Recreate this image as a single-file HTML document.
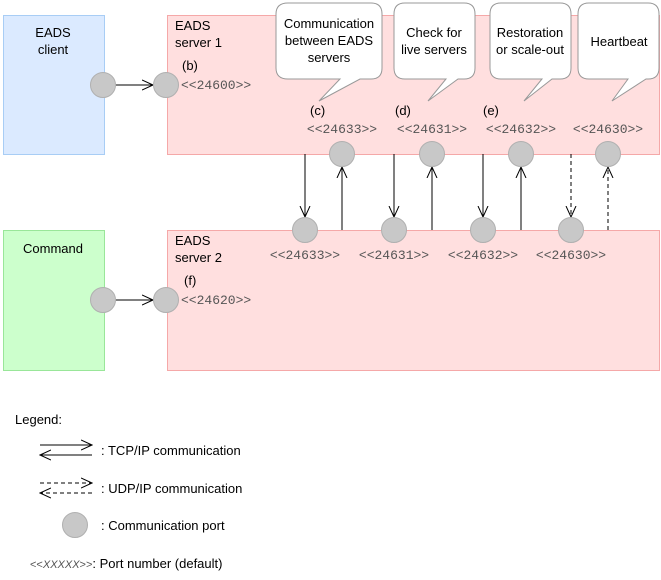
<!DOCTYPE html>
<html><head><style>body{margin:0;background:#fff}</style></head><body>
<svg width="661" height="575" xmlns="http://www.w3.org/2000/svg" font-family="Liberation Sans, sans-serif" font-size="13">
<defs>
<marker id="a" markerWidth="12" markerHeight="12" refX="11" refY="6" orient="auto" markerUnits="userSpaceOnUse"><path d="M0,1 L11,6 L0,11" fill="none" stroke="#000" stroke-width="1"/></marker>
</defs>
<rect x="3.5" y="15.5" width="101" height="139" fill="#dbeaff" stroke="#a8cdf5"/>
<rect x="167.5" y="15.5" width="492" height="139" fill="#ffdfdf" stroke="#f5a8a8"/>
<rect x="3.5" y="230.5" width="101" height="140" fill="#ccffcc" stroke="#99e699"/>
<rect x="167.5" y="230.5" width="492" height="140" fill="#ffdfdf" stroke="#f5a8a8"/>
<text x="53" y="37" text-anchor="middle">EADS</text><text x="53" y="54" text-anchor="middle">client</text>
<text x="53" y="253" text-anchor="middle">Command</text>
<text x="175" y="30">EADS</text><text x="175" y="47">server 1</text>
<text x="182" y="70">(b)</text>
<text x="175" y="245">EADS</text><text x="175" y="262">server 2</text>
<text x="184" y="285">(f)</text>
<text x="310" y="115">(c)</text><text x="395" y="115">(d)</text><text x="483" y="115">(e)</text>
<g font-family="Liberation Mono, monospace" font-size="13" fill="#555">
<text x="181" y="89">&lt;&lt;24600&gt;&gt;</text>
<text x="181" y="304">&lt;&lt;24620&gt;&gt;</text>
<text x="342" y="133" text-anchor="middle">&lt;&lt;24633&gt;&gt;</text>
<text x="432" y="133" text-anchor="middle">&lt;&lt;24631&gt;&gt;</text>
<text x="521" y="133" text-anchor="middle">&lt;&lt;24632&gt;&gt;</text>
<text x="608" y="133" text-anchor="middle">&lt;&lt;24630&gt;&gt;</text>
<text x="305" y="259" text-anchor="middle">&lt;&lt;24633&gt;&gt;</text>
<text x="394" y="259" text-anchor="middle">&lt;&lt;24631&gt;&gt;</text>
<text x="483" y="259" text-anchor="middle">&lt;&lt;24632&gt;&gt;</text>
<text x="571" y="259" text-anchor="middle">&lt;&lt;24630&gt;&gt;</text>
</g>
<g fill="#fff" stroke="#999">
<path d="M288,3 H371 Q382,3 382,14 V68 Q382,79 371,79 H360 L319,101 L340,79 H288 Q276,79 276,68 V14 Q276,3 288,3Z"/>
<path d="M405,3 H464 Q475,3 475,14 V68 Q475,79 464,79 H458 L428,101 L446,79 H405 Q394,79 394,68 V14 Q394,3 405,3Z"/>
<path d="M501,3 H560 Q571,3 571,14 V68 Q571,79 560,79 H552 L524,101 L542,79 H501 Q490,79 490,68 V14 Q490,3 501,3Z"/>
<path d="M589,3 H648 Q659,3 659,14 V68 Q659,79 648,79 H646 L612,101 L628,79 H589 Q578,79 578,68 V14 Q578,3 589,3Z"/>
</g>
<g text-anchor="middle">
<text x="329" y="28">Communication</text><text x="329" y="45">between EADS</text><text x="329" y="62">servers</text>
<text x="434" y="37">Check for</text><text x="434" y="54">live servers</text>
<text x="530" y="37">Restoration</text><text x="530" y="54">or scale-out</text>
<text x="619" y="46">Heartbeat</text>
</g>
<g stroke="#000" fill="none" stroke-width="1">
<line x1="116" y1="85" x2="153" y2="85" marker-end="url(#a)"/>
<line x1="116" y1="300" x2="153" y2="300" marker-end="url(#a)"/>
<line x1="305" y1="154" x2="305" y2="217" marker-end="url(#a)"/>
<line x1="342" y1="230" x2="342" y2="167" marker-end="url(#a)"/>
<line x1="394" y1="154" x2="394" y2="217" marker-end="url(#a)"/>
<line x1="432" y1="230" x2="432" y2="167" marker-end="url(#a)"/>
<line x1="483" y1="154" x2="483" y2="217" marker-end="url(#a)"/>
<line x1="521" y1="230" x2="521" y2="167" marker-end="url(#a)"/>
<line x1="571" y1="154" x2="571" y2="217" stroke-dasharray="4,3" marker-end="url(#a)"/>
<line x1="608" y1="230" x2="608" y2="167" stroke-dasharray="4,3" marker-end="url(#a)"/>
</g>
<g fill="#c8c8c8" stroke="#b0b0b0">
<circle cx="103" cy="85" r="12.5"/><circle cx="166" cy="85" r="12.5"/>
<circle cx="103" cy="300" r="12.5"/><circle cx="166" cy="300" r="12.5"/>
<circle cx="342" cy="154" r="12.5"/><circle cx="432" cy="154" r="12.5"/><circle cx="521" cy="154" r="12.5"/><circle cx="608" cy="154" r="12.5"/>
<circle cx="305" cy="230" r="12.5"/><circle cx="394" cy="230" r="12.5"/><circle cx="483" cy="230" r="12.5"/><circle cx="571" cy="230" r="12.5"/>
<circle cx="75" cy="525" r="12.5"/>
</g>
<text x="15" y="424">Legend:</text>
<g stroke="#000" fill="none">
<line x1="40" y1="445" x2="92" y2="445" marker-end="url(#a)"/>
<line x1="92" y1="455" x2="40" y2="455" marker-end="url(#a)"/>
<line x1="40" y1="483" x2="92" y2="483" stroke-dasharray="4,3" marker-end="url(#a)"/>
<line x1="92" y1="493" x2="40" y2="493" stroke-dasharray="4,3" marker-end="url(#a)"/>
</g>
<text x="101" y="455">: TCP/IP communication</text>
<text x="101" y="493">: UDP/IP communication</text>
<text x="101" y="530">: Communication port</text>
<text x="30" y="568"><tspan font-size="11" fill="#555">&lt;&lt;<tspan font-style="italic">XXXXX</tspan>&gt;&gt;</tspan>: Port number (default)</text>
</svg>
</body></html>
